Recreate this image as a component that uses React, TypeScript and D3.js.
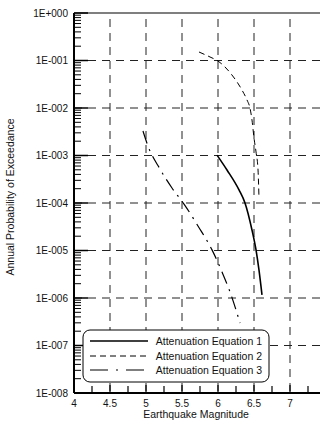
import React from "react";
import * as d3 from "d3";

const xTickValues = [4, 4.5, 5, 5.5, 6, 6.5, 7];
const xTickLabels = ["4", "4.5", "5", "5.5", "6", "6.5", "7"];
const yTickValues = [1, 1e-1, 1e-2, 1e-3, 1e-4, 1e-5, 1e-6, 1e-7, 1e-8];
const yTickLabels = ["1E+000", "1E-001", "1E-002", "1E-003", "1E-004", "1E-005", "1E-006", "1E-007", "1E-008"];

const eq1Mag = [5.986, 6.125, 6.292, 6.375, 6.472, 6.528, 6.569, 6.611];
const eq1Prob = [1.02e-3, 4.95e-4, 1.88e-4, 1e-4, 2.7e-5, 1.03e-5, 3.9e-6, 1.16e-6];

const eq2Mag = [5.736, 5.889, 6.0, 6.194, 6.333, 6.403, 6.444, 6.472, 6.5, 6.528, 6.556, 6.569];
const eq2Prob = [0.151, 0.1186, 0.0975, 0.0495, 0.0239, 0.01474, 0.01, 5.6e-3, 2.34e-3, 1.19e-3, 4.95e-4, 1.34e-4];

const eq3Mag = [4.958, 5.028, 5.194, 5.361, 5.528, 5.722, 5.917, 6.056, 6.167, 6.306];
const eq3Prob = [3.28e-3, 1.58e-3, 5.2e-4, 2.07e-4, 9.5e-5, 3.28e-5, 1.03e-5, 3.52e-6, 1.34e-6, 2.98e-7];

const seriesNames = ["Attenuation Equation 1", "Attenuation Equation 2", "Attenuation Equation 3"];

const FONT = "'Liberation Sans', Arial, sans-serif";

export default function App() {
  const x = d3.scaleLinear().domain([4, 7.5]).range([74, 326]);
  const y = d3.scaleLog().domain([1e-8, 1]).range([393, 13]);

  const series = [
    { mag: eq1Mag, prob: eq1Prob, dash: "none", w: 1.6 },
    { mag: eq2Mag, prob: eq2Prob, dash: "6,4", w: 1 },
    { mag: eq3Mag, prob: eq3Prob, dash: "13,6,2,6", w: 1.2 },
  ];

  const line = d3
    .line<[number, number]>()
    .x((d) => x(d[0]))
    .y((d) => y(d[1]))
    .curve(d3.curveMonotoneX);

  const minorY: number[] = [];
  for (let e = -8; e < 0; e++) {
    for (let k = 2; k <= 9; k++) minorY.push(k * Math.pow(10, e));
  }
  const minorX: number[] = [];
  for (let v = 4.25; v < 7.5; v += 0.5) minorX.push(v);

  const [x0, x1] = x.range();
  const [yb, yt] = y.range();

  const legend = { x: 83, y: 330, w: 186, h: 52 };
  const legendRows = [341, 356, 370];

  return (
    <svg width={320} height={422} style={{ position: "absolute", left: 0, top: 0, background: "#fff" }} fontFamily={FONT}>
      <rect x={0} y={0} width={320} height={422} fill="#fff" />
      {/* grid */}
      {xTickValues.slice(1).map((v) => (
        <line key={"gx" + v} x1={x(v)} x2={x(v)} y1={yt} y2={yb} stroke="#222" strokeWidth={1} strokeDasharray="8,6" strokeDashoffset={-6} />
      ))}
      {yTickValues.slice(1, -1).map((v) => (
        <line key={"gy" + v} x1={x0} x2={x1} y1={y(v)} y2={y(v)} stroke="#222" strokeWidth={1} strokeDasharray="8,6" strokeDashoffset={-14} />
      ))}
      {/* curves */}
      {series.map((s, i) => (
        <path
          key={"s" + i}
          d={line(s.mag.map((m, j) => [m, s.prob[j]] as [number, number])) || ""}
          fill="none"
          stroke="#000"
          strokeWidth={s.w}
          strokeDasharray={s.dash}
        />
      ))}
      {/* axes */}
      <line x1={x0} x2={x1} y1={yt} y2={yt} stroke="#000" strokeWidth={1.2} />
      <line x1={x0} x2={x0} y1={yt} y2={yb} stroke="#000" strokeWidth={2} />
      <line x1={x0} x2={x1} y1={yb} y2={yb} stroke="#000" strokeWidth={2} />
      {yTickValues.map((v) => (
        <line key={"ty" + v} x1={x0} x2={x0 + 14} y1={y(v)} y2={y(v)} stroke="#000" strokeWidth={1.5} />
      ))}
      {minorY.map((v) => (
        <line key={"tmy" + v} x1={x0} x2={x0 + 7} y1={y(v)} y2={y(v)} stroke="#000" strokeWidth={1} />
      ))}
      {xTickValues.map((v) => (
        <line key={"tx" + v} x1={x(v)} x2={x(v)} y1={yb} y2={yb - 8} stroke="#000" strokeWidth={1.2} />
      ))}
      {minorX.map((v) => (
        <line key={"tmx" + v} x1={x(v)} x2={x(v)} y1={yb} y2={yb - 7} stroke="#000" strokeWidth={1.2} />
      ))}
      {/* tick labels */}
      {yTickValues.map((v, i) => (
        <text key={"ly" + v} x={68} y={y(v) + 3.5} fontSize={10} textAnchor="end" fill="#111">
          {yTickLabels[i]}
        </text>
      ))}
      {xTickValues.map((v, i) => (
        <text key={"lx" + v} x={x(v)} y={407} fontSize={10} textAnchor="middle" fill="#111">
          {xTickLabels[i]}
        </text>
      ))}
      <text x={196} y={418} fontSize={10.5} textAnchor="middle" fill="#111">
        Earthquake Magnitude
      </text>
      <text transform="translate(14,197) rotate(-90)" fontSize={10.5} textAnchor="middle" fill="#111">
        Annual Probability of Exceedance
      </text>
      {/* legend */}
      <rect x={legend.x} y={legend.y} width={legend.w} height={legend.h} rx={7} ry={7} fill="#fff" stroke="#000" strokeWidth={1} />
      {series.map((s, i) => (
        <g key={"lg" + i}>
          <line x1={90} x2={148} y1={legendRows[i]} y2={legendRows[i]} stroke="#000" strokeWidth={s.w} strokeDasharray={i === 2 ? "18,8,2,8" : s.dash} />
          <text x={262} y={legendRows[i] + 4} fontSize={10.5} textAnchor="end" fill="#111">
            {seriesNames[i]}
          </text>
        </g>
      ))}
    </svg>
  );
}
